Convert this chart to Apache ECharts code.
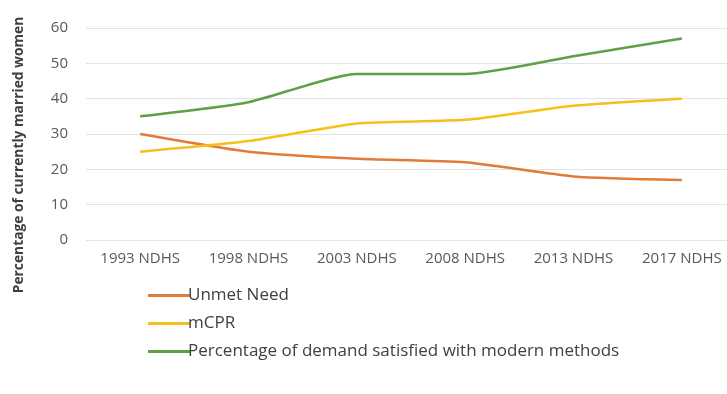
<!DOCTYPE html>
<html><head><meta charset="utf-8">
<script src="https://cdn.jsdelivr.net/npm/echarts@6/dist/echarts.min.js"></script>
<style>html,body{margin:0;padding:0;background:#fff}#c{width:727px;height:394px}</style>
</head><body><div id="c"></div>
<script>
var categories = ['1993 NDHS','1998 NDHS','2003 NDHS','2008 NDHS','2013 NDHS','2017 NDHS'];
var unmetNeed = [30, 25, 23, 22, 18, 17];
var mCPR = [25, 28, 33, 34, 38, 40];
var demandSatisfied = [35, 39, 47, 47, 52, 57];
var yTicks = [0, 10, 20, 30, 40, 50, 60];
var seriesNames = ['Unmet Need', 'mCPR', 'Percentage of demand satisfied with modern methods'];
var yAxisTitle = 'Percentage of currently married women';

var chart = echarts.init(document.getElementById('c'));
var font = '"Open Sans", Lato, sans-serif';
function mk(name, data, color) {
  return {name: name, type: 'line', data: data, smooth: 0.2, symbol: 'none',
    lineStyle: {color: color, width: 2.5}, itemStyle: {color: color}};
}
chart.setOption({
  animation: false,
  textStyle: {fontFamily: font},
  grid: {left: 86, right: -9, top: 28, bottom: 154, outerBoundsMode: 'none', containLabel: false},
  legend: {
    orient: 'vertical', left: 143, top: 282, itemGap: 11,
    icon: 'rect', itemWidth: 42, itemHeight: 3,
    textStyle: {fontFamily: font, fontSize: 17, color: '#404040', padding: [0,0,0,-7]},
    data: seriesNames
  },
  graphic: [{
    type: 'text', x: 19, y: 155, rotation: Math.PI / 2,
    style: {text: yAxisTitle, fontFamily: font, fontSize: 13.8, fontWeight: 'bold', fill: '#404040',
      align: 'center', verticalAlign: 'middle'}
  }],
  xAxis: {
    type: 'category', data: categories, boundaryGap: true,
    axisLine: {show: false}, axisTick: {show: false},
    axisLabel: {fontFamily: font, fontSize: 15, color: '#595959', margin: 11, interval: 0}
  },
  yAxis: {
    type: 'value', min: yTicks[0], max: yTicks[yTicks.length-1], interval: 10,
    axisLine: {show: false}, axisTick: {show: false},
    axisLabel: {fontFamily: font, fontSize: 15, color: '#595959', margin: 18},
    splitLine: {lineStyle: {color: '#e3e3e3', width: 1}}
  },
  series: [
    mk(seriesNames[0], unmetNeed, '#E07B39'),
    mk(seriesNames[1], mCPR, '#F5C01A'),
    mk(seriesNames[2], demandSatisfied, '#5FA046')
  ]
});
</script></body></html>
